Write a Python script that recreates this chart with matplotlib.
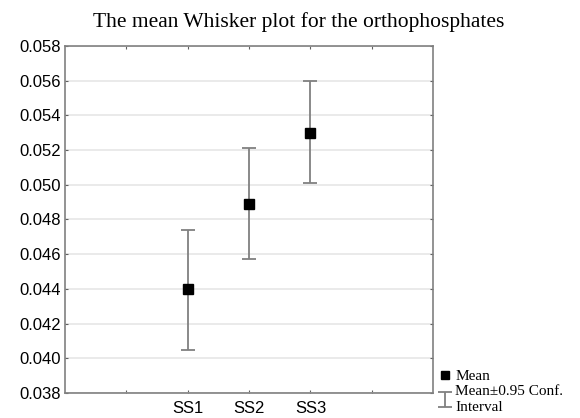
import numpy as np
import matplotlib.pyplot as plt
from matplotlib.lines import Line2D

# values
groups = ["SS1", "SS2", "SS3"]
means = [0.0440, 0.0489, 0.0530]
upper = [0.0474, 0.0521, 0.0560]
lower = [0.0405, 0.0457, 0.0501]

x = np.array([2, 3, 4])
yerr = [np.array(means) - np.array(lower), np.array(upper) - np.array(means)]

fig = plt.figure(figsize=(5.8, 4.18), dpi=100)
ax = fig.add_axes([0.112, 0.06, 0.635, 0.83])

eb = ax.errorbar(x, means, yerr=yerr, fmt="none", ecolor="#808080", elinewidth=1.3,
                 capsize=5, capthick=1.3, zorder=2)
ax.plot(x, means, "s", color="black", markersize=7, zorder=3)

ax.set_xlim(0, 6)
ax.set_ylim(0.038, 0.058)
ax.set_yticks(np.arange(0.038, 0.0581, 0.002))
ax.set_yticklabels([f"{v:.3f}" for v in np.arange(0.038, 0.0581, 0.002)])
ax.set_xticks([1, 2, 3, 4, 5])
ax.set_xticklabels(["", "SS1", "SS2", "SS3", ""])
ax.tick_params(axis="both", direction="in", length=2, color="#606060",
               labelsize=12, top=True, right=True, pad=3)
ax.tick_params(axis="x", pad=6)
for lab in ax.get_xticklabels() + ax.get_yticklabels():
    lab.set_fontfamily("Liberation Sans")
ax.yaxis.grid(True, color="#e6e6e6", linewidth=1.2)
ax.set_axisbelow(True)
for s in ax.spines.values():
    s.set_color("#808080")
    s.set_linewidth(1.2)

fig.text(0.515, 0.935, "The mean Whisker plot for the orthophosphates",
         ha="center", fontsize=15.5, family="Liberation Serif")

handles = [
    Line2D([], [], marker="s", color="black", linestyle="none", markersize=6),
    eb,
]
leg = fig.legend(handles, ["Mean", "Mean±0.95 Conf.\nInterval"], loc="lower left",
                 bbox_to_anchor=(0.748, -0.005), frameon=False, handlelength=0.7,
                 handletextpad=0.3, labelspacing=0.15, borderaxespad=0,
                 prop={"family": "Liberation Serif", "size": 11})
for t in leg.get_texts():
    t.set_linespacing(1.25)

plt.savefig("out.png", dpi=100)
